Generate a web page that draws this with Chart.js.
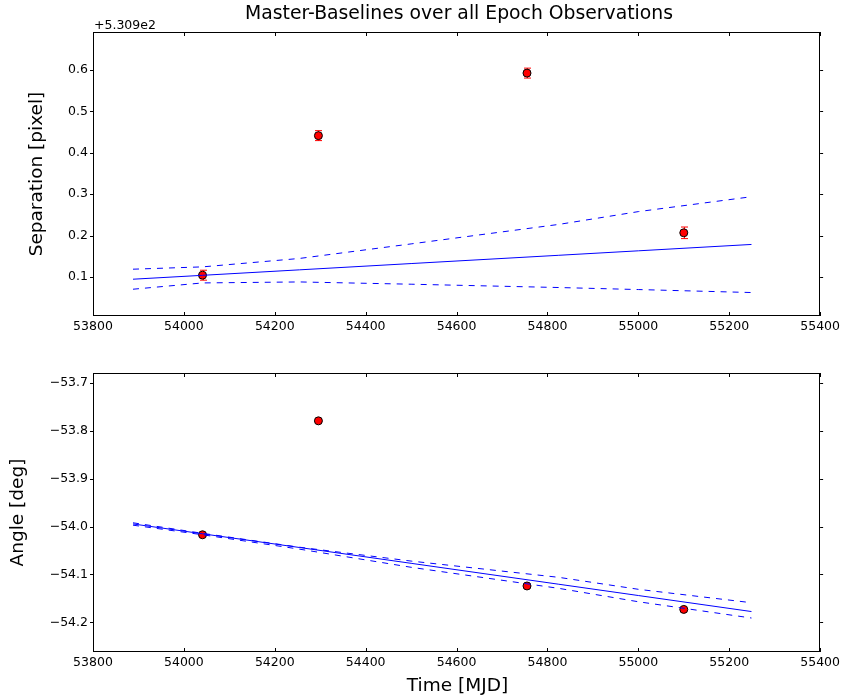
<!DOCTYPE html>
<html>
<head>
<meta charset="utf-8">
<title>Master-Baselines</title>
<script src="https://cdn.jsdelivr.net/npm/chart.js@4/dist/chart.umd.min.js"></script>
<style>
  body { margin: 0; background: #fff; }
  #wrap { position: relative; width: 843px; height: 700px; }
  #wrap canvas { position: absolute; left: 0; }
</style>
</head>
<body>
<div id="wrap">
  <canvas id="sepChart" width="843" height="350" style="top:0"></canvas>
  <canvas id="angChart" width="843" height="350" style="top:350px"></canvas>
</div>
<script>
// separation axis is shown relative to this offset
const SEP_OFFSET = 530.9;

// measured epochs (MJD)
const epochs = [54041, 54296, 54755, 55100];
const separation = [531.0044, 531.3416, 531.4927, 531.1068];
const separationErr = [0.012, 0.012, 0.012, 0.014];
const angle = [-54.017, -53.779, -54.124, -54.173];

// baseline fit and its envelope
const fitTimes = [53888, 54041, 54254, 54500, 54825, 55000, 55249];
const sepFit = [530.9947, 531.0041, 531.0173, 531.0325, 531.0525, 531.0633, 531.0787];
const sepFitUpper = [531.0189, 531.0245, 531.0448, 531.0800, 531.1271, 531.1580, 531.1940];
const sepFitLower = [530.9705, 530.9857, 530.9881, 530.9826, 530.9746, 530.9697, 530.9625];
const angleFit = [-53.9944, -54.0150, -54.0436, -54.0767, -54.1204, -54.1440, -54.1775];
const angleFitUpper = [-53.992, -54.014, -54.043, -54.072, -54.106, -54.131, -54.159];
const angleFitLower = [-53.997, -54.017, -54.047, -54.085, -54.129, -54.157, -54.191];

// tick values
const timeTicks = [53800, 54000, 54200, 54400, 54600, 54800, 55000, 55200, 55400];
const sepTicks = [0.1, 0.2, 0.3, 0.4, 0.5, 0.6];
const angleTicks = [-54.2, -54.1, -54.0, -53.9, -53.8, -53.7];

const FONT = 'DejaVu Sans, sans-serif';
const BLUE = '#0000ff';

function pts(xs, ys) {
  return xs.map((x, i) => ({ x: x, y: ys[i] }));
}

// box around the plot area plus matplotlib style tick marks
const framePlugin = {
  id: 'frame',
  afterDraw(chart) {
    const ctx = chart.ctx;
    const a = chart.chartArea;
    const xs = chart.scales.x, ys = chart.scales.y;
    ctx.save();
    ctx.strokeStyle = '#000';
    ctx.lineWidth = 1;
    ctx.strokeRect(Math.round(a.left) + 0.5, Math.round(a.top) + 0.5,
      Math.round(a.right - a.left) - 1, Math.round(a.bottom - a.top) - 1);
    ctx.beginPath();
    xs.ticks.forEach(t => {
      const px = Math.round(xs.getPixelForValue(t.value)) + 0.5;
      ctx.moveTo(px, a.top); ctx.lineTo(px, a.top + 4);
      ctx.moveTo(px, a.bottom); ctx.lineTo(px, a.bottom - 4);
    });
    ys.ticks.forEach(t => {
      const py = Math.round(ys.getPixelForValue(t.value)) + 0.5;
      ctx.moveTo(a.left - 3, py); ctx.lineTo(a.left, py);
      ctx.moveTo(a.right, py); ctx.lineTo(a.right + 3, py);
    });
    ctx.stroke();
    ctx.restore();
  }
};

// vertical error bars with caps, drawn under the markers
const errorBarPlugin = {
  id: 'errorBars',
  beforeDatasetsDraw(chart, args, opts) {
    if (!opts.errors) return;
    const ctx = chart.ctx;
    const xs = chart.scales.x, ys = chart.scales.y;
    ctx.save();
    ctx.strokeStyle = '#ff0000';
    ctx.lineWidth = 1;
    ctx.beginPath();
    opts.x.forEach((x, i) => {
      const px = Math.round(xs.getPixelForValue(x)) + 0.5;
      const top = ys.getPixelForValue(opts.y[i] + opts.errors[i]);
      const bot = ys.getPixelForValue(opts.y[i] - opts.errors[i]);
      ctx.moveTo(px, top); ctx.lineTo(px, bot);
      ctx.moveTo(px - 3.5, top); ctx.lineTo(px + 3.5, top);
      ctx.moveTo(px - 3.5, bot); ctx.lineTo(px + 3.5, bot);
    });
    ctx.stroke();
    ctx.restore();
  }
};

// free text: title, axis labels, offset label
const textPlugin = {
  id: 'labels',
  afterDraw(chart, args, opts) {
    const ctx = chart.ctx;
    (opts.items || []).forEach(it => {
      ctx.save();
      ctx.font = it.font;
      ctx.fillStyle = '#000';
      ctx.textAlign = it.align || 'center';
      ctx.textBaseline = it.baseline || 'middle';
      ctx.translate(it.x, it.y);
      if (it.rotate) ctx.rotate(it.rotate);
      ctx.fillText(it.text, 0, 0);
      ctx.restore();
    });
  }
};

function makeChart(id, cfg) {
  const lineSet = (data, dashed) => ({
    data: data,
    showLine: true,
    borderColor: BLUE,
    borderWidth: 1,
    borderDash: dashed ? [6, 6] : [],
    pointRadius: 0,
    fill: false
  });
  return new Chart(document.getElementById(id), {
    type: 'scatter',
    data: {
      datasets: [
        lineSet(pts(fitTimes, cfg.fit), false),
        lineSet(pts(fitTimes, cfg.upper), true),
        lineSet(pts(fitTimes, cfg.lower), true),
        {
          data: pts(epochs, cfg.values),
          pointRadius: 4,
          pointBackgroundColor: '#ff0000',
          pointBorderColor: '#000000',
          pointBorderWidth: 1,
          showLine: false
        }
      ]
    },
    options: {
      responsive: false,
      animation: false,
      layout: { padding: { top: cfg.padTop, right: 21, left: 0, bottom: 0 } },
      plugins: {
        legend: { display: false },
        tooltip: { enabled: false },
        errorBars: cfg.errorBars || {},
        labels: { items: cfg.texts }
      },
      scales: {
        x: {
          type: 'linear',
          min: 53800,
          max: 55400,
          afterBuildTicks: s => { s.ticks = timeTicks.map(v => ({ value: v })); },
          afterFit: s => { s.height = cfg.xHeight; },
          grid: { display: false, drawTicks: false },
          border: { display: false },
          ticks: {
            color: '#000',
            padding: 3,
            maxRotation: 0,
            font: { family: FONT, size: 12.5 },
            callback: v => String(v)
          }
        },
        y: {
          min: cfg.yMin,
          max: cfg.yMax,
          afterBuildTicks: s => { s.ticks = cfg.ticks.map(v => ({ value: v })); },
          afterFit: s => { s.width = 93; },
          grid: { display: false, drawTicks: false },
          border: { display: false },
          ticks: {
            color: '#000',
            padding: 5,
            font: { family: FONT, size: 12.5 },
            callback: cfg.tickLabel
          }
        }
      }
    },
    plugins: [errorBarPlugin, framePlugin, textPlugin]
  });
}

makeChart('sepChart', {
  fit: sepFit, upper: sepFitUpper, lower: sepFitLower, values: separation,
  padTop: 32, xHeight: 34,
  yMin: SEP_OFFSET + 0.0058, yMax: SEP_OFFSET + 0.692,
  ticks: sepTicks.map(v => SEP_OFFSET + v),
  tickLabel: v => (v - SEP_OFFSET).toFixed(1),
  errorBars: { x: epochs, y: separation, errors: separationErr },
  texts: [
    { text: 'Master-Baselines over all Epoch Observations', x: 459, y: 14, font: '18.8px ' + FONT },
    { text: 'Separation [pixel]', x: 37, y: 174, rotate: -Math.PI / 2, font: '18.5px ' + FONT },
    { text: '+5.309e2', x: 94, y: 29, align: 'left', baseline: 'alphabetic', font: '12.5px ' + FONT }
  ]
});

makeChart('angChart', {
  fit: angleFit, upper: angleFitUpper, lower: angleFitLower, values: angle,
  padTop: 23, xHeight: 48,
  yMin: -54.262, yMax: -53.679,
  ticks: angleTicks,
  tickLabel: v => v.toFixed(1).replace('-', '\u2212'),
  texts: [
    { text: 'Angle [deg]', x: 18, y: 162.5, rotate: -Math.PI / 2, font: '18.5px ' + FONT },
    { text: 'Time [MJD]', x: 457.5, y: 336, font: '18.5px ' + FONT }
  ]
});
</script>
</body>
</html>
